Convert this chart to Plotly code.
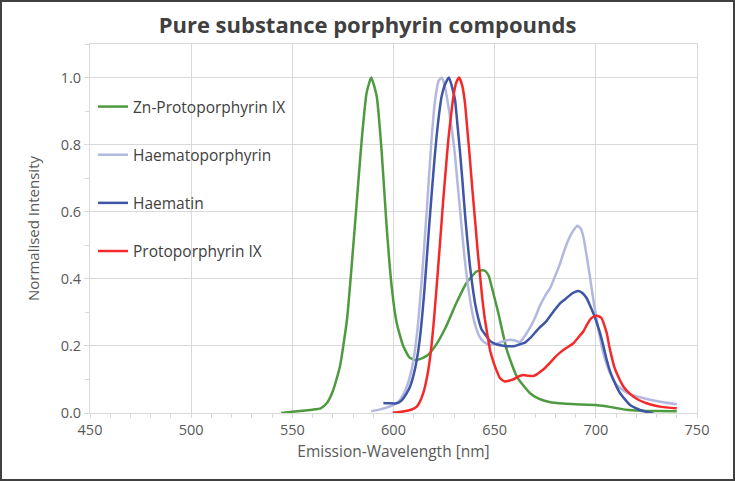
import plotly.graph_objects as go

# ---------------- data ----------------
zn_wl = [544.5, 550, 555, 560, 564, 567, 570, 573.5, 577, 579.3, 581.8, 584.3, 586.7, 589, 591.7,
         594.2, 596.6, 599.1, 601.6, 604.9, 608, 611, 614, 617, 621, 626, 631, 636, 641, 643,
         645.2, 647, 648.5, 651.8, 656, 661, 667.5, 672, 677, 684, 690, 700, 705, 710, 715, 722, 730, 740]
zn_val = [0.0, 0.004, 0.007, 0.010, 0.014, 0.029, 0.065, 0.138, 0.278, 0.437, 0.626, 0.815, 0.954, 1.0, 0.944,
          0.775, 0.556, 0.377, 0.268, 0.198, 0.165, 0.158, 0.163, 0.173, 0.203, 0.258, 0.327, 0.387, 0.422, 0.425,
          0.424, 0.410, 0.377, 0.298, 0.188, 0.108, 0.059, 0.042, 0.033, 0.028, 0.026, 0.024, 0.020, 0.015, 0.010,
          0.007, 0.006, 0.005]

hp_wl = [589, 593, 597, 600, 603, 606, 609, 611.5, 614, 616.4, 618.5, 620.5, 622.3, 623.8, 625.3, 627.5,
         630, 632.5, 635, 637.5, 640, 642.5, 645, 648, 651, 654, 657.6, 660, 662.5, 665, 667.5, 670,
         672.4, 675, 677.4, 679, 682, 684, 686, 688.1, 690, 691, 692.5, 693.8, 696.3, 698.8, 701.3,
         703.7, 707, 710.3, 715.2, 721.8, 730, 740]
hp_val = [0.005, 0.010, 0.017, 0.024, 0.038, 0.070, 0.130, 0.230, 0.400, 0.600, 0.790, 0.930, 0.990, 1.0, 0.975, 0.900,
          0.790, 0.630, 0.470, 0.350, 0.270, 0.228, 0.210, 0.203, 0.206, 0.213, 0.218, 0.216, 0.212, 0.230, 0.255, 0.285,
          0.320, 0.350, 0.372, 0.395, 0.440, 0.477, 0.510, 0.536, 0.553, 0.558, 0.550, 0.526, 0.437, 0.337, 0.248,
          0.178, 0.119, 0.084, 0.061, 0.047, 0.036, 0.026]

ht_wl = [595, 598, 601.6, 603.5, 605, 606.6, 608.2, 610, 611.5, 613, 614, 615.2, 616.4, 617.6, 618.9, 620.1,
         621.3, 622.5, 623.8, 625.5, 627.4, 629, 630.4, 631.6, 632.9, 634.1, 635.3, 636.5, 637.8, 639, 640.3,
         642, 643.6, 645.2, 647.7, 650, 652.6, 655, 657.6, 660, 662.5, 665, 667.5, 670, 672.4, 675, 677.4,
         680, 682.3, 685, 687.3, 689.5, 691.4, 693.5, 695.5, 697, 698.8, 700.5, 702.1, 703.8, 705.4, 707,
         708.7, 710.3, 712, 714.5, 716.9, 719.5, 721.8, 724, 726.8, 729, 731.7, 735, 738, 740]
ht_val = [0.030, 0.029, 0.029, 0.035, 0.045, 0.060, 0.079, 0.115, 0.158, 0.220, 0.278, 0.360, 0.457, 0.555, 0.656, 0.745,
          0.825, 0.890, 0.944, 0.980, 1.0, 0.970, 0.934, 0.860, 0.776, 0.690, 0.596, 0.515, 0.437, 0.380, 0.327,
          0.280, 0.248, 0.235, 0.215, 0.207, 0.202, 0.200, 0.199, 0.200, 0.205, 0.210, 0.223, 0.240, 0.256, 0.270, 0.289,
          0.310, 0.327, 0.340, 0.352, 0.360, 0.364, 0.357, 0.342, 0.322, 0.297, 0.268, 0.238, 0.198, 0.158, 0.125,
          0.099, 0.078, 0.059, 0.040, 0.024, 0.015, 0.009, 0.005, 0.001, -0.004, -0.009, -0.011, -0.014, -0.012]

pp_wl = [599.6, 603, 606, 608.2, 610, 611.5, 613, 614.7, 616, 617.2, 618.5, 619.7, 620.9, 622.1, 623.4, 624.6,
         625.9, 627.1, 628.4, 629.6, 631, 632.5, 634, 635.3, 636.5, 637.8, 639, 640.3, 641.5, 642.8, 644, 645.2,
         646.5, 647.7, 649, 650.2, 651.4, 652.6, 654, 655.1, 657, 659.2, 661.5, 664.2, 666.5, 669.1, 670.8,
         672.4, 675, 677.4, 680, 682.3, 685, 687, 688.9, 691.3, 693.8, 695.5, 697.1, 698.8, 700.4, 701.6,
         702.8, 704, 705.4, 706.6, 707.8, 709, 710.3, 712, 713.6, 716, 718.5, 721.5, 725.1, 728.5, 731.7, 736, 740]
pp_val = [0.001, 0.003, 0.006, 0.009, 0.013, 0.019, 0.033, 0.059, 0.090, 0.128, 0.185, 0.258, 0.345, 0.437, 0.540, 0.636,
          0.730, 0.815, 0.885, 0.944, 0.985, 1.0, 0.975, 0.925, 0.845, 0.755, 0.665, 0.576, 0.490, 0.407, 0.335, 0.278,
          0.230, 0.188, 0.160, 0.138, 0.120, 0.104, 0.097, 0.094, 0.096, 0.100, 0.108, 0.113, 0.111, 0.110, 0.115,
          0.122, 0.135, 0.150, 0.167, 0.180, 0.192, 0.200, 0.208, 0.225, 0.243, 0.262, 0.278, 0.287, 0.290, 0.288,
          0.283, 0.265, 0.238, 0.200, 0.168, 0.140, 0.119, 0.097, 0.079, 0.062, 0.049, 0.038, 0.029, 0.023, 0.019,
          0.016, 0.014]

series = [
    ("Zn-Protoporphyrin IX", zn_wl, zn_val, "#4e9a3e"),
    ("Haematoporphyrin", hp_wl, hp_val, "#b3b8e0"),
    ("Haematin", ht_wl, ht_val, "#3f55a5"),
    ("Protoporphyrin IX", pp_wl, pp_val, "#f42a2a"),
]

x_ticks = [450, 500, 550, 600, 650, 700, 750]
y_ticks = [0.0, 0.2, 0.4, 0.6, 0.8, 1.0]

# ---------------- figure ----------------
FONT = "Open Sans"
GRID = "#d9d9d9"

fig = go.Figure()
for name, wl, val, col in series:
    fig.add_trace(go.Scatter(
        x=wl, y=val, name=name, mode="lines", legendgroup=name,
        line=dict(color=col, width=2.5, shape="spline", smoothing=0.5),
    ))

L, R, T, B = 90, 38, 44, 68
W, H = 735, 481
pw, ph = W - L - R, H - T - B

fig.update_layout(
    width=W, height=H,
    margin=dict(l=L, r=R, t=T, b=B, pad=0),
    paper_bgcolor="white", plot_bgcolor="white",
    font=dict(family=FONT, color="#595959", size=14),
    title=dict(text="<b>Pure substance porphyrin compounds</b>",
               font=dict(family=FONT, size=22, color="#404040"),
               x=0.5, xref="container", xanchor="center",
               y=1 - 25 / H, yref="container", yanchor="middle"),
    legend=dict(x=3 / pw, y=(413 - 90) / ph, xanchor="left", yanchor="top",
                bgcolor="rgba(0,0,0,0)", borderwidth=0,
                font=dict(family=FONT, size=15.5, color="#404040"),
                tracegroupgap=25),
    showlegend=True,
)

fig.update_xaxes(
    range=[450, 750], tickvals=x_ticks, ticktext=[str(v) for v in x_ticks],
    showgrid=True, gridcolor=GRID, gridwidth=1,
    showline=True, linecolor=GRID, linewidth=1, mirror=True,
    ticks="outside", ticklen=4, tickcolor=GRID,
    minor=dict(dtick=10, tick0=450, ticks="outside", ticklen=4, tickcolor=GRID, showgrid=False),
    tickfont=dict(family=FONT, size=14.5, color="#595959"),
    zeroline=False,
    title=dict(text="Emission-Wavelength [nm]", standoff=7,
               font=dict(family=FONT, size=15.5, color="#595959")),
)
fig.update_yaxes(
    range=[0, 1.1], tickvals=y_ticks, ticktext=[f"{v:.1f}" for v in y_ticks],
    showgrid=True, gridcolor=GRID, gridwidth=1,
    showline=True, linecolor=GRID, linewidth=1, mirror=True,
    ticks="outside", ticklen=5, tickcolor=GRID,
    minor=dict(dtick=0.1, tick0=0, ticks="outside", ticklen=4, tickcolor=GRID, showgrid=False),
    tickfont=dict(family=FONT, size=14.5, color="#595959"),
    zeroline=False,
    title=dict(text="Normalised Intensity", standoff=17,
               font=dict(family=FONT, size=15, color="#595959")),
)

# outer frame of the chart image
fig.add_shape(type="rect", xref="paper", yref="paper",
              x0=(1 - L) / pw, x1=(W - 1 - L) / pw,
              y0=-(H - 1 - (T + ph)) / ph, y1=(T + ph - 1) / ph,
              line=dict(color="#404040", width=2), fillcolor="rgba(0,0,0,0)", layer="above")

fig.write_html("out.html",
               config={"displayModeBar": False},
               post_script="document.body.style.margin='0';document.body.style.padding='0';"
                           "document.body.style.overflow='hidden';")
